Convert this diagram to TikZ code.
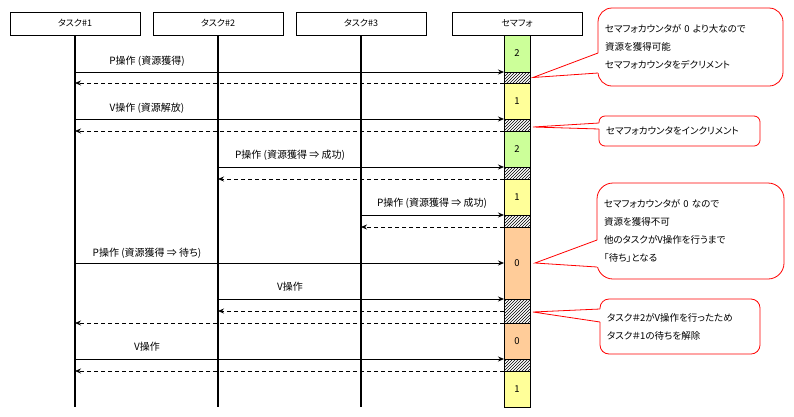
\documentclass[tikz,border=0pt]{standalone}
\usepackage{fontspec}
\setmainfont[RawFeature=+palt]{Noto Sans CJK JP}
\usetikzlibrary{arrows.meta,calc,positioning,patterns}
\definecolor{CellGreen}{HTML}{CCFF99}
\definecolor{CellYellow}{HTML}{FFFF99}
\definecolor{CellOrange}{HTML}{FFCC99}
\definecolor{Alert}{HTML}{FF0000}
\tikzset{
  headbox/.style={draw,line width=0.8pt,outer sep=0pt,minimum width=130pt,minimum height=23pt,anchor=north,
    font=\fontsize{9}{11}\selectfont},
  lifeline/.style={line width=2pt},
  cell/.style={draw,line width=0.8pt,outer sep=0pt,minimum width=26pt,inner sep=0pt,font=\fontsize{9.5}{11}\selectfont},
  hatchcell/.style={cell,pattern=north east lines},
  callarrow/.style={-{Stealth[length=6pt,width=5pt]},line width=0.8pt},
  backarrow/.style={callarrow,dash pattern=on 4pt off 3pt},
  msg/.style={font=\fontsize{10}{12}\selectfont},
  balloon/.style={draw=Alert,fill=white,line width=0.8pt,outer sep=0pt,anchor=north west,align=left,inner xsep=7pt,
    font=\fontsize{9.5}{18}\selectfont},
  pointer/.style={draw=Alert,line width=0.8pt},
}

\begin{document}
\begin{tikzpicture}[x=1pt,y=-1pt]
    \useasboundingbox (0,0) rectangle (794,416);

    % lanes
    \node[headbox] (t1) at (75,12) {タスク\#1};
    \node[headbox] (t2) at (218,12) {タスク\#2};
    \node[headbox] (t3) at (361,12) {タスク\#3};
    \node[headbox] (sem) at (517,12) {セマフォ};

    % semaphore counter column
    \node[cell,fill=CellGreen,minimum height=37pt,below=0pt of sem] (c1) {2};
    \node[hatchcell,minimum height=11pt,below=0pt of c1] (h1) {};
    \node[cell,fill=CellYellow,minimum height=36pt,below=0pt of h1] (c2) {1};
    \node[hatchcell,minimum height=12pt,below=0pt of c2] (h2) {};
    \node[cell,fill=CellGreen,minimum height=36pt,below=0pt of h2] (c3) {2};
    \node[hatchcell,minimum height=12pt,below=0pt of c3] (h3) {};
    \node[cell,fill=CellYellow,minimum height=36pt,below=0pt of h3] (c4) {1};
    \node[hatchcell,minimum height=12pt,below=0pt of c4] (h4) {};
    \node[cell,fill=CellOrange,minimum height=72pt,below=0pt of h4] (c5) {0};
    \node[hatchcell,minimum height=24pt,below=0pt of c5] (h5) {};
    \node[cell,fill=CellOrange,minimum height=36pt,below=0pt of h5] (c6) {0};
    \node[hatchcell,minimum height=12pt,below=0pt of c6] (h6) {};
    \node[cell,fill=CellYellow,minimum height=36pt,below=0pt of h6] (c7) {1};

    \draw[lifeline] (t1.south) -- (t1.south |- c7.south);
    \draw[lifeline] (t2.south) -- (t2.south |- c7.south);
    \draw[lifeline] (t3.south) -- (t3.south |- c7.south);

    % messages
    \node[msg] (m1) at (147,61) {P操作 (資源獲得)};
    \draw[callarrow] (h1.north west -| t1) -- (h1.north west);
    \draw[backarrow] (h1.south west) -- (h1.south west -| t1);

    \node[msg] (m2) at (147,108) {V操作 (資源解放)};
    \draw[callarrow] (h2.north west -| t1) -- (h2.north west);
    \draw[backarrow] (h2.south west) -- (h2.south west -| t1);

    \node[msg] (m3) at (290,155) {P操作 (資源獲得 ⇒ 成功)};
    \draw[callarrow] (h3.north west -| t2) -- (h3.north west);
    \draw[backarrow] (h3.south west) -- (h3.south west -| t2);

    \node[msg] (m4) at (432,203) {P操作 (資源獲得 ⇒ 成功)};
    \draw[callarrow] (h4.north west -| t3) -- (h4.north west);
    \draw[backarrow] (h4.south west) -- (h4.south west -| t3);

    \node[msg] (m5) at (147,253) {P操作 (資源獲得 ⇒ 待ち)};
    \draw[callarrow] (c5.west -| t1) -- (c5.west);

    \node[msg] (m6) at (290,287) {V操作};
    \draw[callarrow] (h5.north west -| t2) -- (h5.north west);
    \draw[backarrow] (h5.west) -- (h5.west -| t2);
    \draw[backarrow] (h5.south west) -- (h5.south west -| t1);

    \node[msg] (m7) at (147,347) {V操作};
    \draw[callarrow] (h6.north west -| t1) -- (h6.north west);
    \draw[backarrow] (h6.south west) -- (h6.south west -| t1);

    % balloons
    \node[balloon,rounded corners=14pt,minimum width=185pt,minimum height=78pt,text width=171pt] (b1) at (598,8)
      {セマフォカウンタが 0 より大なので\\資源を獲得可能\\セマフォカウンタをデクリメント};
    \fill[white] ($(h1.east)+(3,0)$) -- ($(b1.north west)+(1,45)$) -- ($(b1.north west)+(1,65)$) -- cycle;
    \draw[pointer] ($(b1.north west)+(0,45)$) -- ($(h1.east)+(3,0)$) -- ($(b1.north west)+(0,65)$);

    \node[balloon,rounded corners=6pt,minimum width=161pt,minimum height=30pt,text width=147pt] (b2) at (599,116)
      {セマフォカウンタをインクリメント};
    \fill[white] ($(h2.east)+(3,2)$) -- ($(b2.north west)+(1,7)$) -- ($(b2.north west)+(1,13)$) -- cycle;
    \draw[pointer] ($(b2.north west)+(0,7)$) -- ($(h2.east)+(3,2)$) -- ($(b2.north west)+(0,13)$);

    \node[balloon,rounded corners=16pt,minimum width=187pt,minimum height=96pt,text width=173pt] (b3) at (597,183)
      {セマフォカウンタが 0 なので\\資源を獲得不可\\他のタスクがV操作を行うまで\\「待ち」となる};
    \fill[white] ($(c5.east)+(5,0)$) -- ($(b3.north west)+(1,57)$) -- ($(b3.north west)+(1,84)$) -- cycle;
    \draw[pointer] ($(b3.north west)+(0,57)$) -- ($(c5.east)+(5,0)$) -- ($(b3.north west)+(0,84)$);

    \node[balloon,rounded corners=9pt,minimum width=160pt,minimum height=55pt,text width=146pt] (b4) at (600,299)
      {タスク＃2がV操作を行ったため\\タスク＃1の待ちを解除};
    \fill[white] ($(h5.east)+(3,1)$) -- ($(b4.north west)+(1,10)$) -- ($(b4.north west)+(1,23)$) -- cycle;
    \draw[pointer] ($(b4.north west)+(0,10)$) -- ($(h5.east)+(3,1)$) -- ($(b4.north west)+(0,23)$);
  \end{tikzpicture}
\end{document}
